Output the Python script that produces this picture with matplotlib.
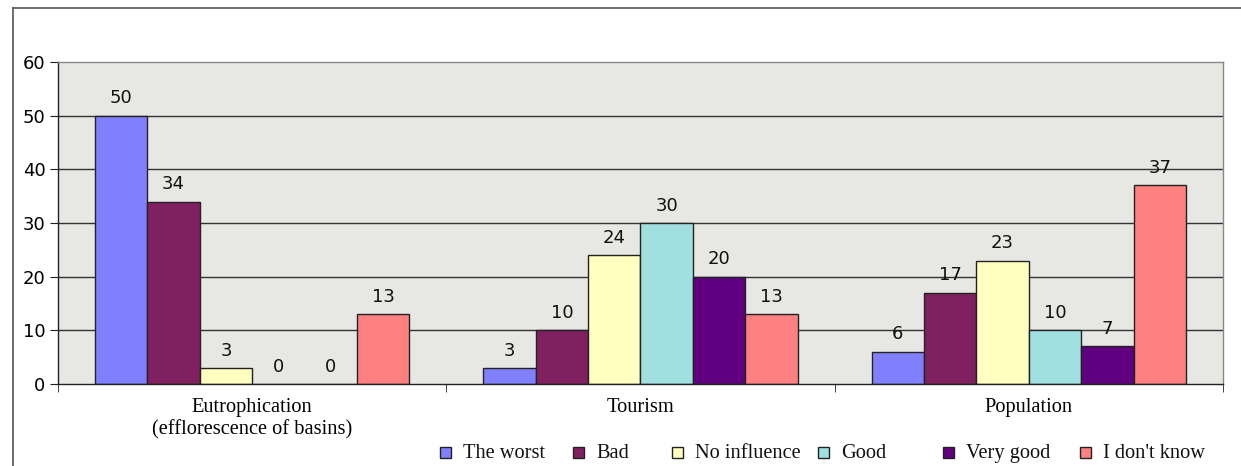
import matplotlib
matplotlib.use("Agg")
import matplotlib.pyplot as plt
from matplotlib.lines import Line2D
from matplotlib.patches import Rectangle
import numpy as np

categories = ["Eutrophication\n(efflorescence of basins)", "Tourism", "Population"]
series_names = ["The worst", "Bad", "No influence", "Good", "Very good", "I don't know"]
values = {
    "The worst":    [50, 3, 6],
    "Bad":          [34, 10, 17],
    "No influence": [3, 24, 23],
    "Good":         [0, 30, 10],
    "Very good":    [0, 20, 7],
    "I don't know": [13, 13, 37],
}
colors = ["#8080FF", "#802060", "#FFFFC0", "#A0E0E0", "#600080", "#FF8080"]
yticks = [0, 10, 20, 30, 40, 50, 60]

# legend entry left positions in pixels (layout only)
legend_px = [440, 573, 672, 818, 943, 1080]

W, H = 1241, 466
fig = plt.figure(figsize=(W/100, H/100), dpi=100)
fig.patch.set_facecolor("white")
ax = fig.add_axes([58/W, 1-384/H, (1223-58)/W, (384-62)/H])
ax.set_facecolor("#e7e7e4")

n = len(series_names)
group_w = 0.81
bw = group_w / n
x = np.arange(len(categories))
for i, name in enumerate(series_names):
    pos = x - group_w/2 + bw*(i + 0.5)
    ax.bar(pos, values[name], width=bw, color=colors[i], edgecolor="#222222",
           linewidth=1.0, label=name, zorder=3)
    for xp, v in zip(pos, values[name]):
        ax.annotate(str(v), (xp, v), xytext=(0, 6), textcoords="offset points",
                    ha="center", va="bottom", fontsize=13, family="DejaVu Sans",
                    color="#111111", zorder=4)

ax.set_xlim(-0.5, len(categories) - 0.5)
ax.set_ylim(0, 60)
ax.set_yticks(yticks)
ax.set_yticklabels([str(t) for t in yticks], fontsize=13, family="DejaVu Sans")
for t in yticks[1:-1]:
    ax.axhline(t, color="#333333", linewidth=1.0, zorder=2)

ax.set_xticks(x)
ax.set_xticklabels(categories, fontsize=14.7, family="Liberation Serif", linespacing=1.25)
ax.tick_params(axis="x", which="major", length=0, pad=10)
ax.set_xticks(np.arange(len(categories) + 1) - 0.5, minor=True)
ax.tick_params(axis="x", which="minor", length=6, direction="out", color="#222222")
ax.tick_params(axis="y", length=6, direction="out", color="#222222", pad=3)

ax.spines["left"].set_color("#222222")
ax.spines["bottom"].set_color("#222222")
ax.spines["top"].set_color("#888888")
ax.spines["right"].set_color("#888888")
for s in ax.spines.values():
    s.set_linewidth(1.0)
    s.set_zorder(5)

# legend drawn as squares + baseline-aligned text
sq = 11
for i, name in enumerate(series_names):
    x0 = legend_px[i]
    fig.add_artist(Rectangle((x0/W, 1-(452+sq/2)/H), sq/W, sq/H,
                             transform=fig.transFigure, facecolor=colors[i],
                             edgecolor="#222222", linewidth=1.0))
    fig.text((x0+sq+12)/W, 1-458/H, name, family="Liberation Serif", fontsize=14.7,
             va="baseline", ha="left", color="#111111")

# figure frame lines (left and top)
fig.add_artist(Line2D([13/W, 13/W], [0, 1-8/H], transform=fig.transFigure,
                      color="#555555", linewidth=1.2))
fig.add_artist(Line2D([13/W, 1.0], [1-8/H, 1-8/H], transform=fig.transFigure,
                      color="#555555", linewidth=1.2))

fig.savefig("out.png", dpi=100)
